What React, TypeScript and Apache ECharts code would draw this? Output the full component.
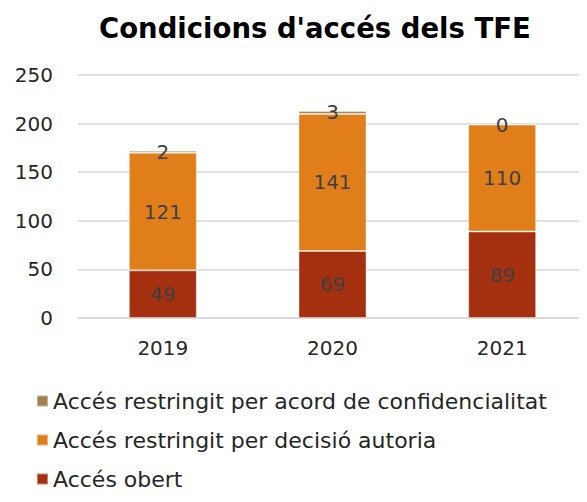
import React, { useEffect, useRef } from "react";
import * as echarts from "echarts";

const categories = ["2019", "2020", "2021"];
const obert = [49, 69, 89];
const decisio = [121, 141, 110];
const confid = [2, 3, 0];
const yTicks = [0, 50, 100, 150, 200, 250];

const names = {
  confid: "Accés restringit per acord de confidencialitat",
  decisio: "Accés restringit per decisió autoria",
  obert: "Accés obert",
};

const FONT = "DejaVu Sans";

export default function App() {
  const ref = useRef<HTMLDivElement>(null);
  useEffect(() => {
    if (!ref.current) return;
    const chart = echarts.init(ref.current, undefined, { renderer: "svg" });
    const label = {
      show: true,
      position: "inside" as const,
      color: "#404040",
      fontSize: 20,
      fontFamily: FONT,
    };
    const mk = (name: string, data: number[], color: string) => ({
      name,
      type: "bar",
      stack: "total",
      data,
      barWidth: 68,
      itemStyle: { color, borderColor: "rgba(255,255,255,0.4)", borderWidth: 1 },
      label,
    });
    chart.setOption({
      animation: false,
      textStyle: { fontFamily: FONT },
      title: {
        text: "Condicions d'accés dels TFE",
        left: 94,
        top: 9,
        textStyle: { fontFamily: FONT, fontWeight: "bold", fontSize: 27.5, color: "#000" },
      },
      grid: { left: 78, top: 75, width: 516, height: 243 },
      xAxis: {
        type: "category",
        data: categories,
        axisTick: { show: false },
        axisLine: { lineStyle: { color: "#d9d9d9", width: 1.5 } },
        axisLabel: { color: "#262626", fontSize: 20, fontFamily: FONT, margin: 20 },
      },
      yAxis: {
        type: "value",
        min: yTicks[0],
        max: yTicks[yTicks.length - 1],
        interval: 50,
        axisLine: { show: false },
        axisTick: { show: false },
        splitLine: { lineStyle: { color: "#d9d9d9", width: 1.5 } },
        axisLabel: { color: "#262626", fontSize: 20, fontFamily: FONT, margin: 25 },
      },
      legend: {
        orient: "vertical",
        left: 36,
        top: 388,
        padding: 0,
        itemWidth: 11,
        itemHeight: 11,
        itemGap: 13,
        icon: "rect",
        data: [names.confid, names.decisio, names.obert],
        textStyle: { fontSize: 22, fontFamily: FONT, color: "#262626", lineHeight: 26 },
      },
      series: [
        mk(names.obert, obert, "#A5300F"),
        mk(names.decisio, decisio, "#E07E1A"),
        mk(names.confid, confid, "#9E8250"),
      ],
    });
    return () => chart.dispose();
  }, []);
  return <div ref={ref} style={{ width: 587, height: 502, margin: -8 }} />;
}
